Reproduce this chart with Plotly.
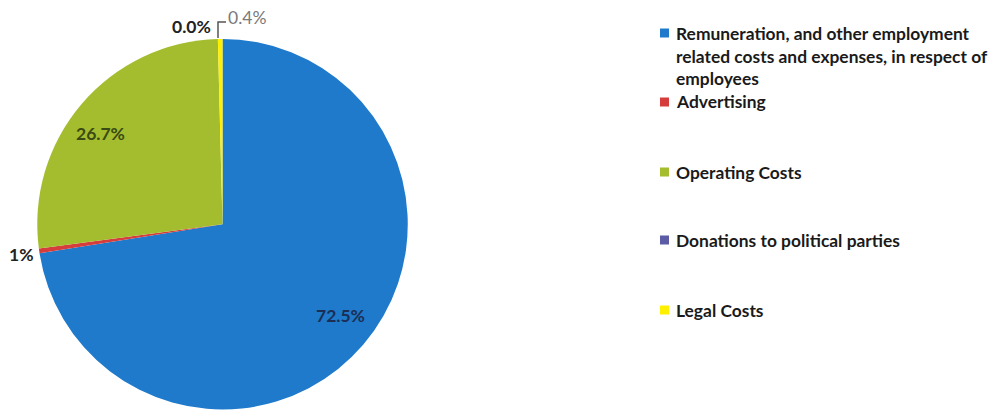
import plotly.graph_objects as go

# ---- data ----
labels = ["Remuneration, and other employment related costs and expenses, in respect of employees",
          "Advertising", "Operating Costs", "Donations to political parties", "Legal Costs"]
legend_text = ["Remuneration, and other employment<br>related costs and expenses, in respect of<br>employees",
               "Advertising", "Operating Costs", "Donations to political parties", "Legal Costs"]
values = [72.5, 0.4, 26.7, 0.0, 0.4]
pct_text = ["72.5%", "1%", "26.7%", "0.0%", "0.4%"]
colors = ["#1F7ACB", "#D63C3C", "#A4BD2F", "#5B5BA6", "#FFF000"]

W, H = 1000, 410
def px(x): return x / W
def py(y): return 1 - y / H

fig = go.Figure(go.Pie(
    labels=labels, values=values, sort=False, direction="clockwise", rotation=0,
    marker=dict(colors=colors, line=dict(width=0)),
    textinfo="none", hoverinfo="label+percent", showlegend=False,
    domain=dict(x=[px(37), px(408)], y=[py(409.5), py(39)]),
))

# slice labels (positions, colours)
label_pos = [(340, 315), (21, 254), (100, 133), (191, 26), (247, 17)]
label_col = ["#1B2E55", "#222222", "#3B4A12", "#222222", "#7A7A7A"]
label_weight = ["bold", "bold", "bold", "bold", "normal"]
anns = []
for t, (x, y), c, w in zip(pct_text, label_pos, label_col, label_weight):
    anns.append(dict(x=px(x), y=py(y), xref="paper", yref="paper", text=t, showarrow=False,
                     xanchor="center", yanchor="middle",
                     font=dict(family="Lato", size=17.5, color=c, weight=w)))

shapes = [dict(type="path", xref="paper", yref="paper",
               path=f"M {px(218)} {py(38)} L {px(218)} {py(22)} L {px(226)} {py(22)}",
               line=dict(color="#555555", width=1.5))]

# manual legend
leg_y = [33, 102, 172, 240, 310]
for name, y, c in zip(legend_text, leg_y, colors):
    shapes.append(dict(type="rect", xref="paper", yref="paper",
                       x0=px(660), x1=px(669), y0=py(y - 4.5), y1=py(y + 4.5),
                       fillcolor=c, line=dict(width=0)))
    anns.append(dict(x=px(674), y=py(y - 12.5), xref="paper", yref="paper", text=name,
                     showarrow=False, xanchor="left", yanchor="top", align="left",
                     font=dict(family="Lato", size=17.4, color="#1A1A1A", weight="bold")))

fig.update_layout(width=W, height=H, margin=dict(l=0, r=0, t=0, b=0),
                  paper_bgcolor="white", plot_bgcolor="white",
                  annotations=anns, shapes=shapes)
fig.write_html("out.html")
